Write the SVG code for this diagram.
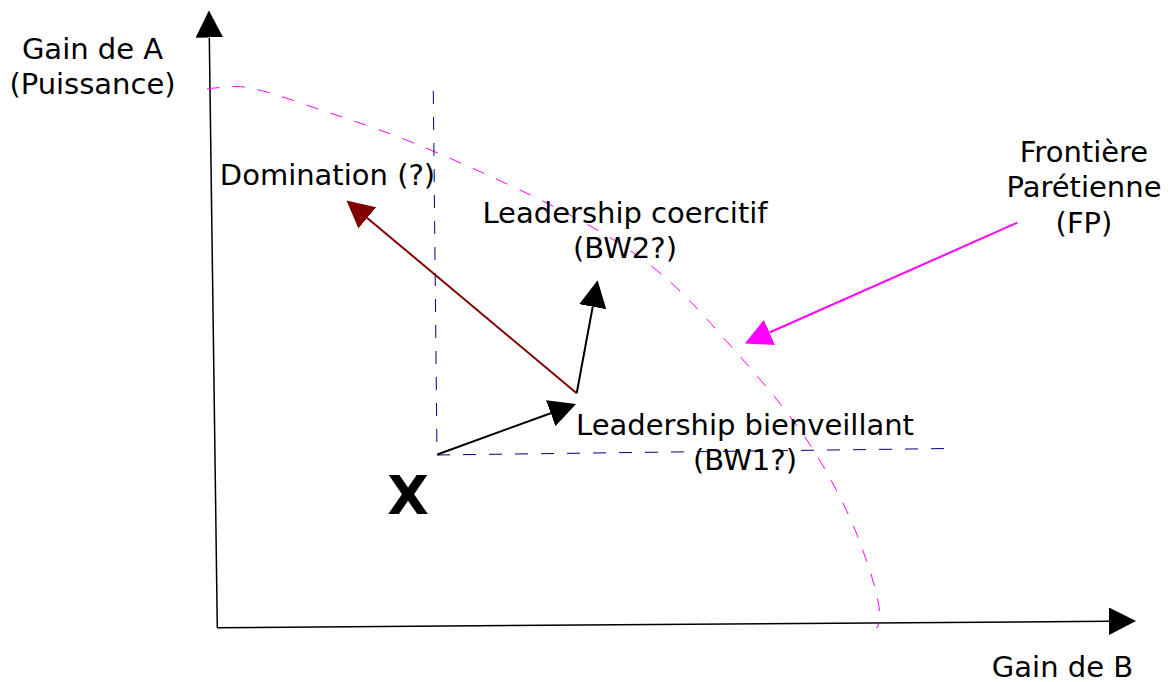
<svg xmlns="http://www.w3.org/2000/svg" width="1168" height="682" viewBox="0 0 1168 682">
  <style>
    .lbl { font-family: "DejaVu Sans", "Liberation Sans", sans-serif; font-size: 29px; fill: #000; text-anchor: middle; }
    .big { font-family: "DejaVu Sans", "Liberation Sans", sans-serif; font-size: 54px; font-weight: bold; fill: #000; text-anchor: middle; }
    .axis { stroke: #000; stroke-width: 1.5; fill: none; }
    .vec { stroke-width: 2; fill: none; }
    .guide { stroke: #000080; stroke-width: 1; fill: none; stroke-dasharray: 13 13; }
    .front { stroke: #ff00ff; stroke-width: 1; fill: none; stroke-dasharray: 12.5 13; }
  </style>
  <defs>
    <marker id="headBlack" markerUnits="userSpaceOnUse" markerWidth="28" markerHeight="28" refX="0" refY="13.75" orient="auto">
      <path d="M0,0 L27,13.75 L0,27.5 z" fill="#000"/>
    </marker>
    <marker id="headRed" markerUnits="userSpaceOnUse" markerWidth="28" markerHeight="28" refX="0" refY="13.75" orient="auto">
      <path d="M0,0 L27,13.75 L0,27.5 z" fill="#800000"/>
    </marker>
    <marker id="headMagenta" markerUnits="userSpaceOnUse" markerWidth="28" markerHeight="28" refX="0" refY="13.75" orient="auto">
      <path d="M0,0 L27,13.75 L0,27.5 z" fill="#ff00ff"/>
    </marker>
  </defs>

  <rect width="1168" height="682" fill="#fff"/>

  <!-- axes -->
  <g id="axes">
    <line class="axis" x1="217.3" y1="627.7" x2="209.3" y2="37.5" marker-end="url(#headBlack)"/>
    <line class="axis" x1="217.3" y1="627.7" x2="1109" y2="621.3" marker-end="url(#headBlack)"/>
    <text class="lbl" x="92.5" y="58.5">Gain de A</text>
    <text class="lbl" x="92.5" y="93.5">(Puissance)</text>
    <text class="lbl" x="1062.5" y="676.5">Gain de B</text>
  </g>

  <!-- Pareto frontier -->
  <g id="frontier">
    <path class="front" d="M207,89 C212,88.2 227,86.5 237,86.5 C257,86.5 297.3,102.25 330,113 C362.7,123.75 393,134 433,151 C473,168 532.2,194.7 570,215 C607.8,235.3 632.2,250 660,273 C687.8,296 713.7,326.8 737,353 C760.3,379.2 782.3,405 800,430 C817.7,455 831.7,480.5 843,503 C854.3,525.5 862,547.7 868,565 C874,582.3 877.3,596.7 879,607 C880.7,617.3 878.2,623.7 878,627 L876,627.5"/>
  </g>

  <!-- reference quadrant from the status quo point -->
  <g id="quadrant">
    <line class="guide" x1="433.3" y1="91" x2="437" y2="455"/>
    <line class="guide" x1="437" y1="455" x2="950" y2="448.5"/>
  </g>

  <!-- status quo point -->
  <g id="point-x">
    <text class="big" x="408" y="513.5">X</text>
  </g>

  <!-- connectors -->
  <g id="connectors">
    <line class="vec" stroke="#000" x1="437.3" y1="454.5" x2="550.7" y2="413.2" marker-end="url(#headBlack)"/>
    <line class="vec" stroke="#000" x1="576.7" y1="393.3" x2="592.7" y2="306.7" marker-end="url(#headBlack)"/>
    <line class="vec" stroke="#800000" x1="576.7" y1="393.3" x2="367.2" y2="217.9" marker-end="url(#headRed)"/>
    <line class="vec" stroke="#ff00ff" stroke-width="2.5" x1="1017.3" y1="222.7" x2="769.5" y2="332.5" marker-end="url(#headMagenta)"/>
  </g>

  <g id="domination">
    <text class="lbl" x="327.5" y="185">Domination (?)</text>
  </g>
  <g id="coercive">
    <text class="lbl" x="625" y="223">Leadership coercitif</text>
    <text class="lbl" x="625" y="258">(BW2?)</text>
  </g>
  <g id="benevolent">
    <text class="lbl" x="745" y="435">Leadership bienveillant</text>
    <text class="lbl" x="745" y="470">(BW1?)</text>
  </g>
  <g id="frontier-label">
    <text class="lbl" x="1084" y="161.5">Frontière</text>
    <text class="lbl" x="1084" y="197">Parétienne</text>
    <text class="lbl" x="1084" y="232.5">(FP)</text>
  </g>
</svg>
